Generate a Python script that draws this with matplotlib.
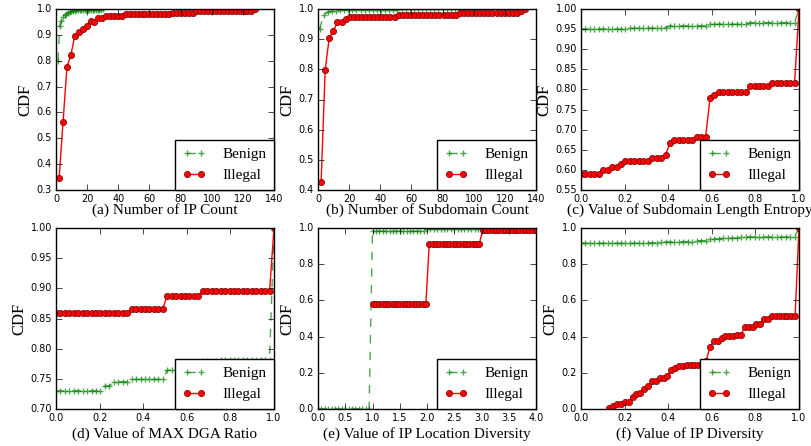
import numpy as np
import matplotlib
matplotlib.use("Agg")
import matplotlib.pyplot as plt

# ---- (a) Number of IP Count
a_benign_x = np.linspace(1.3, 30, 28)
a_benign_y = [0.80, 0.935, 0.955, 0.968, 0.976, 0.982, 0.986, 0.989, 0.991, 0.993,
              0.994, 0.995, 0.996, 0.996, 0.996, 0.996, 0.997, 0.997, 0.997, 0.997,
              0.997, 0.998, 0.998, 0.998, 0.998, 0.998, 0.998, 0.999]
a_illegal_x = np.linspace(2, 128, 51)
a_illegal_y = [0.345, 0.562, 0.777, 0.822, 0.897, 0.912, 0.921, 0.934, 0.952, 0.951,
               0.964, 0.964, 0.972, 0.972, 0.972, 0.972, 0.972, 0.980, 0.980, 0.980,
               0.980, 0.980, 0.980, 0.980, 0.980, 0.980, 0.980, 0.980, 0.980, 0.986,
               0.986, 0.986, 0.986, 0.986, 0.986, 0.993, 0.993, 0.993, 0.993, 0.993,
               0.993, 0.993, 0.993, 0.993, 0.993, 0.993, 0.993, 0.993, 0.993, 0.993,
               1.0]

# ---- (b) Number of Subdomain Count
b_benign_x = np.linspace(1, 130, 50)
b_benign_y = [0.933, 0.980, 0.990, 0.993, 0.995, 0.996, 0.997, 0.997, 0.997, 0.997] + \
             [0.998] * 10 + [0.999] * 29 + [1.0]
b_illegal_x = np.linspace(2, 133, 51)
b_illegal_y = [0.427, 0.799, 0.905, 0.927, 0.956, 0.956, 0.966] + [0.972] * 12 + \
              [0.979] * 15 + [0.986] * 15 + [0.993, 1.0]

# ---- (c) Value of Subdomain Length Entropy
c_benign_x = np.linspace(0, 1, 50)
c_benign_y = [0.950] * 11 + [0.952] * 7 + [0.954] * 2 + [0.958] * 9 + \
             [0.962] * 9 + [0.966] * 11 + [1.0]
c_illegal_x = np.linspace(0, 1, 50)
c_illegal_y = [0.591] * 5 + [0.600] * 2 + [0.607] * 2 + [0.615] + [0.622] * 6 + \
              [0.630] * 3 + [0.637, 0.667] + [0.674] * 5 + [0.681] * 3 + \
              [0.778, 0.786] + [0.793] * 7 + [0.808] * 5 + [0.815] * 6 + [1.0]

# ---- (d) Value of MAX DGA Ratio
d_benign_x = np.linspace(0, 1, 50)
d_benign_y = [0.730] * 11 + [0.738] * 2 + [0.745] * 4 + [0.749] * 8 + [0.764] * 4 + \
             [0.772] * 4 + [0.779] * 4 + [0.782] * 12 + [1.0]
d_illegal_x = np.linspace(0, 1, 50)
d_illegal_y = [0.859] * 17 + [0.866] * 8 + [0.888] * 8 + [0.895] * 16 + [1.0]

# ---- (e) Value of IP Location Diversity
e_benign_x = np.linspace(0, 4, 65)
e_benign_y = [0.0] * 16 + [0.982] * 16 + [0.996] * 17 + [1.0] * 16
e_illegal_x = np.linspace(1, 4, 50)
e_illegal_y = [0.581] * 17 + [0.912] * 16 + [0.987] * 17

# ---- (f) Value of IP Diversity
f_benign_x = np.linspace(0, 1, 50)
f_benign_y = [0.915] * 15 + [0.918] * 3 + [0.922] * 5 + [0.925] * 3 + [0.930] * 3 + \
             [0.940] * 3 + [0.944] * 4 + [0.950] * 13 + [1.0]
f_illegal_x = np.linspace(0.13, 1, 50)
f_illegal_y = [0.007, 0.015, 0.029, 0.029, 0.037, 0.037, 0.066, 0.081, 0.088, 0.110,
               0.125, 0.154, 0.154, 0.169, 0.169, 0.184, 0.213, 0.228, 0.235, 0.235,
               0.243, 0.243, 0.243, 0.243, 0.243, 0.265, 0.345, 0.375, 0.375, 0.390,
               0.404, 0.404, 0.404, 0.410, 0.410, 0.454, 0.454, 0.454, 0.472, 0.472,
               0.500, 0.500, 0.515, 0.515, 0.515, 0.515, 0.515, 0.515, 0.515, 1.0]

titles = ["(a) Number of IP Count", "(b) Number of Subdomain Count",
          "(c) Value of Subdomain Length Entropy", "(d) Value of MAX DGA Ratio",
          "(e) Value of IP Location Diversity", "(f) Value of IP Diversity"]

panels = [
    (a_benign_x, a_benign_y, a_illegal_x, a_illegal_y, (0, 140), np.arange(0, 141, 20), (0.3, 1.0), np.arange(0.3, 1.01, 0.1), "%.1f", "%d"),
    (b_benign_x, b_benign_y, b_illegal_x, b_illegal_y, (0, 140), np.arange(0, 141, 20), (0.4, 1.0), np.arange(0.4, 1.01, 0.1), "%.1f", "%d"),
    (c_benign_x, c_benign_y, c_illegal_x, c_illegal_y, (0, 1), np.arange(0, 1.01, 0.2), (0.55, 1.0), np.arange(0.55, 1.001, 0.05), "%.2f", "%.1f"),
    (d_benign_x, d_benign_y, d_illegal_x, d_illegal_y, (0, 1), np.arange(0, 1.01, 0.2), (0.7, 1.0), np.arange(0.7, 1.001, 0.05), "%.2f", "%.1f"),
    (e_benign_x, e_benign_y, e_illegal_x, e_illegal_y, (0, 4), np.arange(0, 4.01, 0.5), (0.0, 1.0), np.arange(0, 1.01, 0.2), "%.1f", "%.1f"),
    (f_benign_x, f_benign_y, f_illegal_x, f_illegal_y, (0, 1), np.arange(0, 1.01, 0.2), (0.0, 1.0), np.arange(0, 1.01, 0.2), "%.1f", "%.1f"),
]

plt.style.use("classic")
plt.rcParams["savefig.facecolor"] = "white"
plt.rcParams["figure.facecolor"] = "white"

W, H = 812.0, 446.0
fig = plt.figure(figsize=(W / 100, H / 100), dpi=100)
lefts = [56, 318, 581]
bottoms = [190, 409]
aw, ah = 218, 181
xpads = [-1, 3]

serif = ["Liberation Serif", "DejaVu Serif"]

for i, (bx, by, ix, iy, xl, xt, yl, yt, yfmt, xfmt) in enumerate(panels):
    r, c = divmod(i, 3)
    ax = fig.add_axes([lefts[c] / W, 1 - bottoms[r] / H, aw / W, ah / H])
    ax.plot(bx, by, "g--+", alpha=0.7, lw=1, ms=5, mew=1, label="Benign")
    ax.plot(ix, iy, "r-o", lw=1, ms=4.5, mec="#700000", mew=0.5, label="Illegal")
    ax.set_xlim(xl)
    ax.set_ylim(yl)
    ax.set_xticks(xt)
    ax.set_yticks(yt)
    ax.set_xticklabels([xfmt % v for v in xt], fontsize=7)
    ax.set_yticklabels([yfmt % v for v in yt], fontsize=7)
    ax.tick_params(direction="in", length=4, top=True, right=True, pad=3)
    ax.set_ylabel("CDF", family=serif, fontsize=12, labelpad=2)
    ax.set_xlabel(titles[i], family=serif, fontsize=11, labelpad=xpads[r])
    leg = ax.legend(loc="lower right", numpoints=2, fancybox=False,
                    prop={"family": serif, "size": 11}, borderaxespad=0,
                    handlelength=1.5, handletextpad=1.1, labelspacing=0.5,
                    borderpad=0.5)
    leg.get_frame().set_edgecolor("black")

fig.savefig("out.png", dpi=100)
